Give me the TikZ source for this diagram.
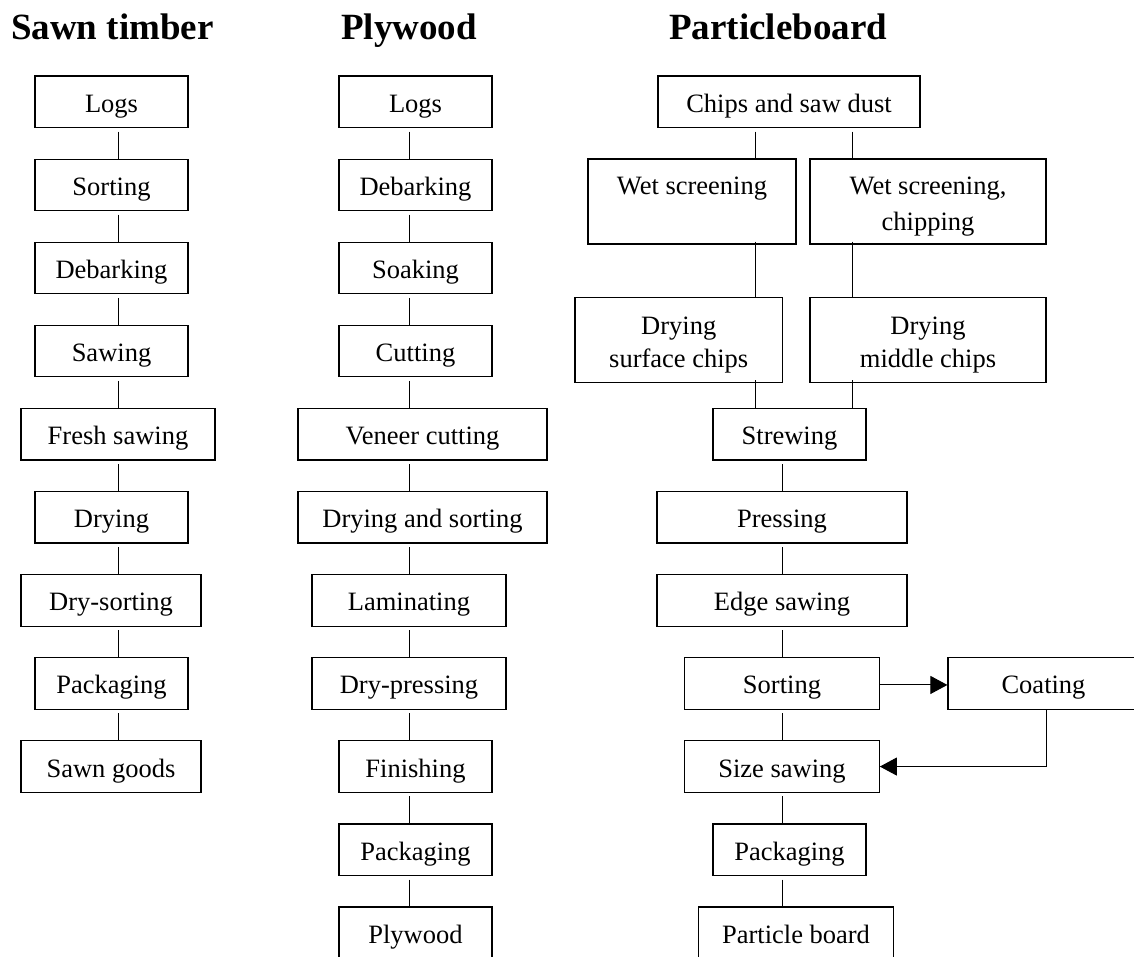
\documentclass[tikz,border=0pt]{standalone}
\usepackage{fontspec}
\setmainfont{Liberation Serif}
\usetikzlibrary{arrows.meta}
% two centred lines inside a tall box, set around the box's text baseline
\newcommand{\twolines}[3][17]{%
  \makebox[0pt]{\raisebox{#1pt}[0pt][0pt]{#2}}%
  \makebox[0pt]{\raisebox{-#1pt}[0pt][0pt]{#3}}}
\begin{document}
\begin{tikzpicture}[x=1pt,y=-1pt,
  box/.style={draw, line width=1.2pt, inner sep=0pt, minimum width=#1,
    minimum height=51.5pt, text height=26pt, text depth=5pt,
    font=\fontsize{26.5pt}{35pt}\selectfont},
  tallbox/.style={box=#1, minimum height=85pt},
  title/.style={anchor=base west, inner sep=0pt,
    font=\fontsize{37pt}{44pt}\selectfont\bfseries},
  link/.style={line width=1pt, shorten <=3.5pt},
  inlink/.style={line width=1pt, shorten <=-3pt},
  flow/.style={line width=1pt, -{Triangle[length=17pt,width=18pt]}}]

\useasboundingbox (0,0) rectangle (1134,956);
\fill[white] (0,0) rectangle (1134,956);
\clip (0,0) rectangle (1134,956);

% column headings
\node[title] (t1) at (11,39.5) {Sawn timber};
\node[title] (t2) at (341,39.5) {Plywood};
\node[title] (t3) at (669,39.5) {Particleboard};

% ---- sawn timber ----
\node[box=153pt] (s1) at (111.5,101.75) {Logs};
\node[box=153pt] (s2) at (111.5,184.85) {Sorting};
\node[box=153pt] (s3) at (111.5,267.95) {Debarking};
\node[box=153pt] (s4) at (111.5,351.05) {Sawing};
\node[box=194pt] (s5) at (118,434.15) {Fresh sawing};
\node[box=153pt] (s6) at (111.5,517.25) {Drying};
\node[box=180pt] (s7) at (111,600.35) {Dry-sorting};
\node[box=153pt] (s8) at (111.5,683.45) {Packaging};
\node[box=180pt] (s9) at (111,766.55) {Sawn goods};
\coordinate (sx) at (118,0);
\foreach \a/\b in {s1/s2,s2/s3,s3/s4,s4/s5,s5/s6,s6/s7,s7/s8,s8/s9}
  \draw[link] (\a.south -| sx) -- (\b.north -| sx);

% ---- plywood ----
\node[box=153pt] (p1) at (415.5,101.75) {Logs};
\node[box=153pt] (p2) at (415.5,184.85) {Debarking};
\node[box=153pt] (p3) at (415.5,267.95) {Soaking};
\node[box=153pt] (p4) at (415.5,351.05) {Cutting};
\node[box=249pt] (p5) at (422.5,434.15) {Veneer cutting};
\node[box=249pt] (p6) at (422.5,517.25) {Drying and sorting};
\node[box=194pt] (p7) at (409,600.35) {Laminating};
\node[box=194pt] (p8) at (409,683.45) {Dry-pressing};
\node[box=153pt] (p9) at (415.5,766.55) {Finishing};
\node[box=153pt] (p10) at (415.5,849.65) {Packaging};
\node[box=153pt] (p11) at (415.5,932.75) {Plywood};
\coordinate (px) at (409,0);
\foreach \a/\b in {p1/p2,p2/p3,p3/p4,p4/p5,p5/p6,p6/p7,p7/p8,p8/p9,p9/p10,p10/p11}
  \draw[link] (\a.south -| px) -- (\b.north -| px);

% ---- particleboard ----
\node[box=262pt] (c1) at (789,101.75) {Chips and saw dust};
\node[tallbox=208pt] (c2) at (692,201.5) {\twolines[18]{Wet screening}{}};
\node[tallbox=236pt] (c3) at (928,201.5) {\twolines[18]{Wet screening,}{chipping}};
\node[tallbox=207.5pt] (c4) at (678.75,340) {\twolines[16.5]{Drying}{surface chips}};
\node[tallbox=236pt] (c5) at (928,340) {\twolines[16.5]{Drying}{middle chips}};
\node[box=153pt] (c6) at (789.5,434.15) {Strewing};
\node[box=250pt] (c7) at (782,517.25) {Pressing};
\node[box=250pt] (c8) at (782,600.35) {Edge sawing};
\node[box=194.5pt] (c9) at (782,683.45) {Sorting};
\node[box=191pt] (c10) at (1043.5,683.45) {Coating};
\node[box=194.5pt] (c11) at (782,766.55) {Size sawing};
\node[box=153pt] (c12) at (789.5,849.65) {Packaging};
\node[box=194.5pt] (c13) at (796,932.75) {Particle board};

\coordinate (bl) at (755,0);
\coordinate (br) at (852,0);
\coordinate (cx) at (782.5,0);
\coordinate (cd) at (1046,0);

\draw[link] (c1.south -| bl) -- (c2.north -| bl);
\draw[link] (c1.south -| br) -- (c3.north -| br);
\draw[inlink] (c2.south -| bl) -- (c4.north -| bl);
\draw[inlink] (c3.south -| br) -- (c5.north -| br);
\draw[inlink] (c4.south -| bl) -- (c6.north -| bl);
\draw[inlink] (c5.south -| br) -- (c6.north -| br);
\foreach \a/\b in {c6/c7,c7/c8,c8/c9,c9/c11,c11/c12,c12/c13}
  \draw[link] (\a.south -| cx) -- (\b.north -| cx);

% coating loop
\draw[flow] ([yshift=-1.5pt]c9.east) -- ([yshift=-1.5pt]c10.west);
\draw[flow] (c10.south -| cd) |- (c11.east);
\end{tikzpicture}
\end{document}
